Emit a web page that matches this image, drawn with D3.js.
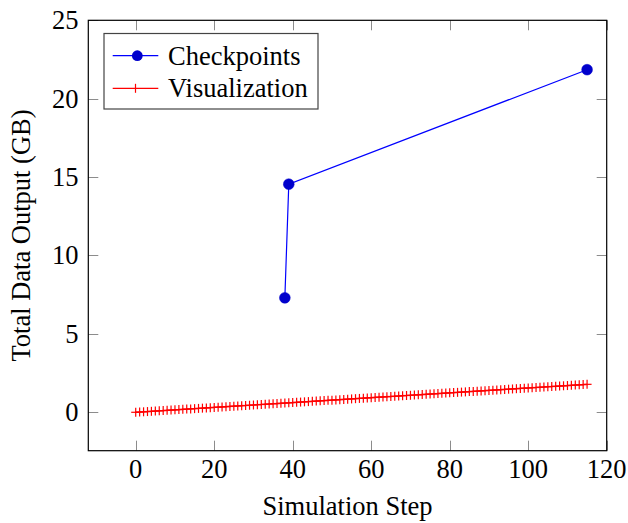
<!DOCTYPE html>
<html><head><meta charset="utf-8">
<script src="https://cdn.jsdelivr.net/npm/d3@7"></script>
<style>body{margin:0;background:#fff}svg text{font-family:"Liberation Serif","Times New Roman",serif}</style>
</head><body><svg id="c" width="628" height="523"></svg>
<script>
const checkSteps = [38, 39, 115];
const checkValues = [7.3, 14.55, 21.85];
const visSteps = [0,1,2,3,4,5,6,7,8,9,10,11,12,13,14,15,16,17,18,19,20,21,22,23,24,25,26,27,28,29,30,31,32,33,34,35,36,37,38,39,40,41,42,43,44,45,46,47,48,49,50,51,52,53,54,55,56,57,58,59,60,61,62,63,64,65,66,67,68,69,70,71,72,73,74,75,76,77,78,79,80,81,82,83,84,85,86,87,88,89,90,91,92,93,94,95,96,97,98,99,100,101,102,103,104,105,106,107,108,109,110,111,112,113,114,115];
const visValues = [0,0.016,0.031,0.047,0.062,0.078,0.093,0.109,0.124,0.140,0.155,0.171,0.186,0.202,0.217,0.233,0.248,0.264,0.279,0.295,0.310,0.326,0.341,0.357,0.372,0.388,0.403,0.419,0.434,0.450,0.465,0.481,0.496,0.512,0.527,0.543,0.558,0.574,0.589,0.605,0.620,0.636,0.651,0.667,0.682,0.698,0.713,0.729,0.744,0.760,0.775,0.791,0.806,0.822,0.837,0.853,0.868,0.884,0.899,0.915,0.930,0.946,0.961,0.977,0.992,1.008,1.023,1.039,1.054,1.070,1.085,1.101,1.116,1.132,1.147,1.163,1.178,1.194,1.209,1.225,1.240,1.256,1.271,1.287,1.302,1.318,1.333,1.349,1.364,1.380,1.395,1.411,1.426,1.442,1.457,1.473,1.488,1.504,1.519,1.535,1.550,1.566,1.581,1.597,1.612,1.628,1.643,1.659,1.674,1.690,1.705,1.721,1.736,1.752,1.767,1.783];
const xTicks = [0,20,40,60,80,100,120];
const yTicks = [0,5,10,15,20,25];
const seriesNames = ["Checkpoints","Visualization"];

const svg = d3.select("#c");
const L=88.3, R=606.7, T=20.3, B=450.7;
const x = d3.scaleLinear().domain([-12.08,120]).range([L,R]);
const y = d3.scaleLinear().domain([-2.45,25]).range([B,T]);
const fs = 26.5;

// ticks (inward, gray, on all four sides)
const tg = svg.append("g").attr("stroke","#8c8c8c").attr("stroke-width",1);
const tl = 10;
xTicks.forEach(v=>{
  const px = Math.round(x(v))+0.5;
  tg.append("line").attr("x1",px).attr("x2",px).attr("y1",B).attr("y2",B-tl);
  tg.append("line").attr("x1",px).attr("x2",px).attr("y1",T).attr("y2",T+tl);
});
yTicks.forEach(v=>{
  const py = Math.round(y(v))+0.5;
  tg.append("line").attr("x1",L).attr("x2",L+tl).attr("y1",py).attr("y2",py);
  tg.append("line").attr("x1",R).attr("x2",R-tl).attr("y1",py).attr("y2",py);
});

// frame
svg.append("rect").attr("x",L).attr("y",T).attr("width",R-L).attr("height",B-T)
  .attr("fill","none").attr("stroke","#000").attr("stroke-width",1.2);

// tick labels
xTicks.forEach(v=>{
  svg.append("text").attr("x",x(v)).attr("y",477.5).attr("text-anchor","middle")
    .attr("font-size",fs).text(v);
});
yTicks.forEach(v=>{
  svg.append("text").attr("x",78.5).attr("y",y(v)+9).attr("text-anchor","end")
    .attr("font-size",fs).text(v);
});

// axis labels
svg.append("text").attr("x",(L+R)/2).attr("y",515).attr("text-anchor","middle")
  .attr("font-size",fs).text("Simulation Step");
svg.append("text").attr("transform",`translate(30,${(T+B)/2}) rotate(-90)`)
  .attr("text-anchor","middle").attr("font-size",fs).text("Total Data Output (GB)");

const line = d3.line().x(d=>x(d[0])).y(d=>y(d[1]));
const check = checkSteps.map((s,i)=>[s,checkValues[i]]);
const vis = visSteps.map((s,i)=>[s,visValues[i]]);

// checkpoints
svg.append("path").datum(check).attr("d",line).attr("fill","none").attr("stroke","#0000ff").attr("stroke-width",1.2);
svg.selectAll("circle.ck").data(check).join("circle").attr("class","ck")
  .attr("cx",d=>x(d[0])).attr("cy",d=>y(d[1])).attr("r",5.4).attr("fill","#0000cc").attr("stroke","#0000cc").attr("stroke-width",0.5);

// visualization
svg.append("path").datum(vis).attr("d",line).attr("fill","none").attr("stroke","#ff0000").attr("stroke-width",1.2);
const ms = 4.5;
const vg = svg.append("g").attr("stroke","#ff0000").attr("stroke-width",1.2);
vis.forEach(d=>{
  const cx=x(d[0]), cy=y(d[1]);
  vg.append("line").attr("x1",cx).attr("x2",cx).attr("y1",cy-ms).attr("y2",cy+ms);
  vg.append("line").attr("x1",cx-ms).attr("x2",cx+ms).attr("y1",cy).attr("y2",cy);
});

// legend
const lg = svg.append("g");
lg.append("rect").attr("x",104).attr("y",33.5).attr("width",214).attr("height",75.5)
  .attr("fill","#fff").attr("stroke","#444").attr("stroke-width",1.2);
const rows=[55.7,88.3];
lg.append("line").attr("x1",112.7).attr("x2",158.3).attr("y1",rows[0]).attr("y2",rows[0]).attr("stroke","#0000ff").attr("stroke-width",1.2);
lg.append("circle").attr("cx",137.3).attr("cy",rows[0]).attr("r",5.4).attr("fill","#0000cc");
lg.append("line").attr("x1",112.7).attr("x2",158.3).attr("y1",rows[1]).attr("y2",rows[1]).attr("stroke","#ff0000").attr("stroke-width",1.2);
lg.append("line").attr("x1",135.5).attr("x2",135.5).attr("y1",rows[1]-ms).attr("y2",rows[1]+ms).attr("stroke","#ff0000").attr("stroke-width",1.2);
seriesNames.forEach((n,i)=>{
  lg.append("text").attr("x",168).attr("y",rows[i]+9).attr("font-size",fs).text(n);
});
</script></body></html>
